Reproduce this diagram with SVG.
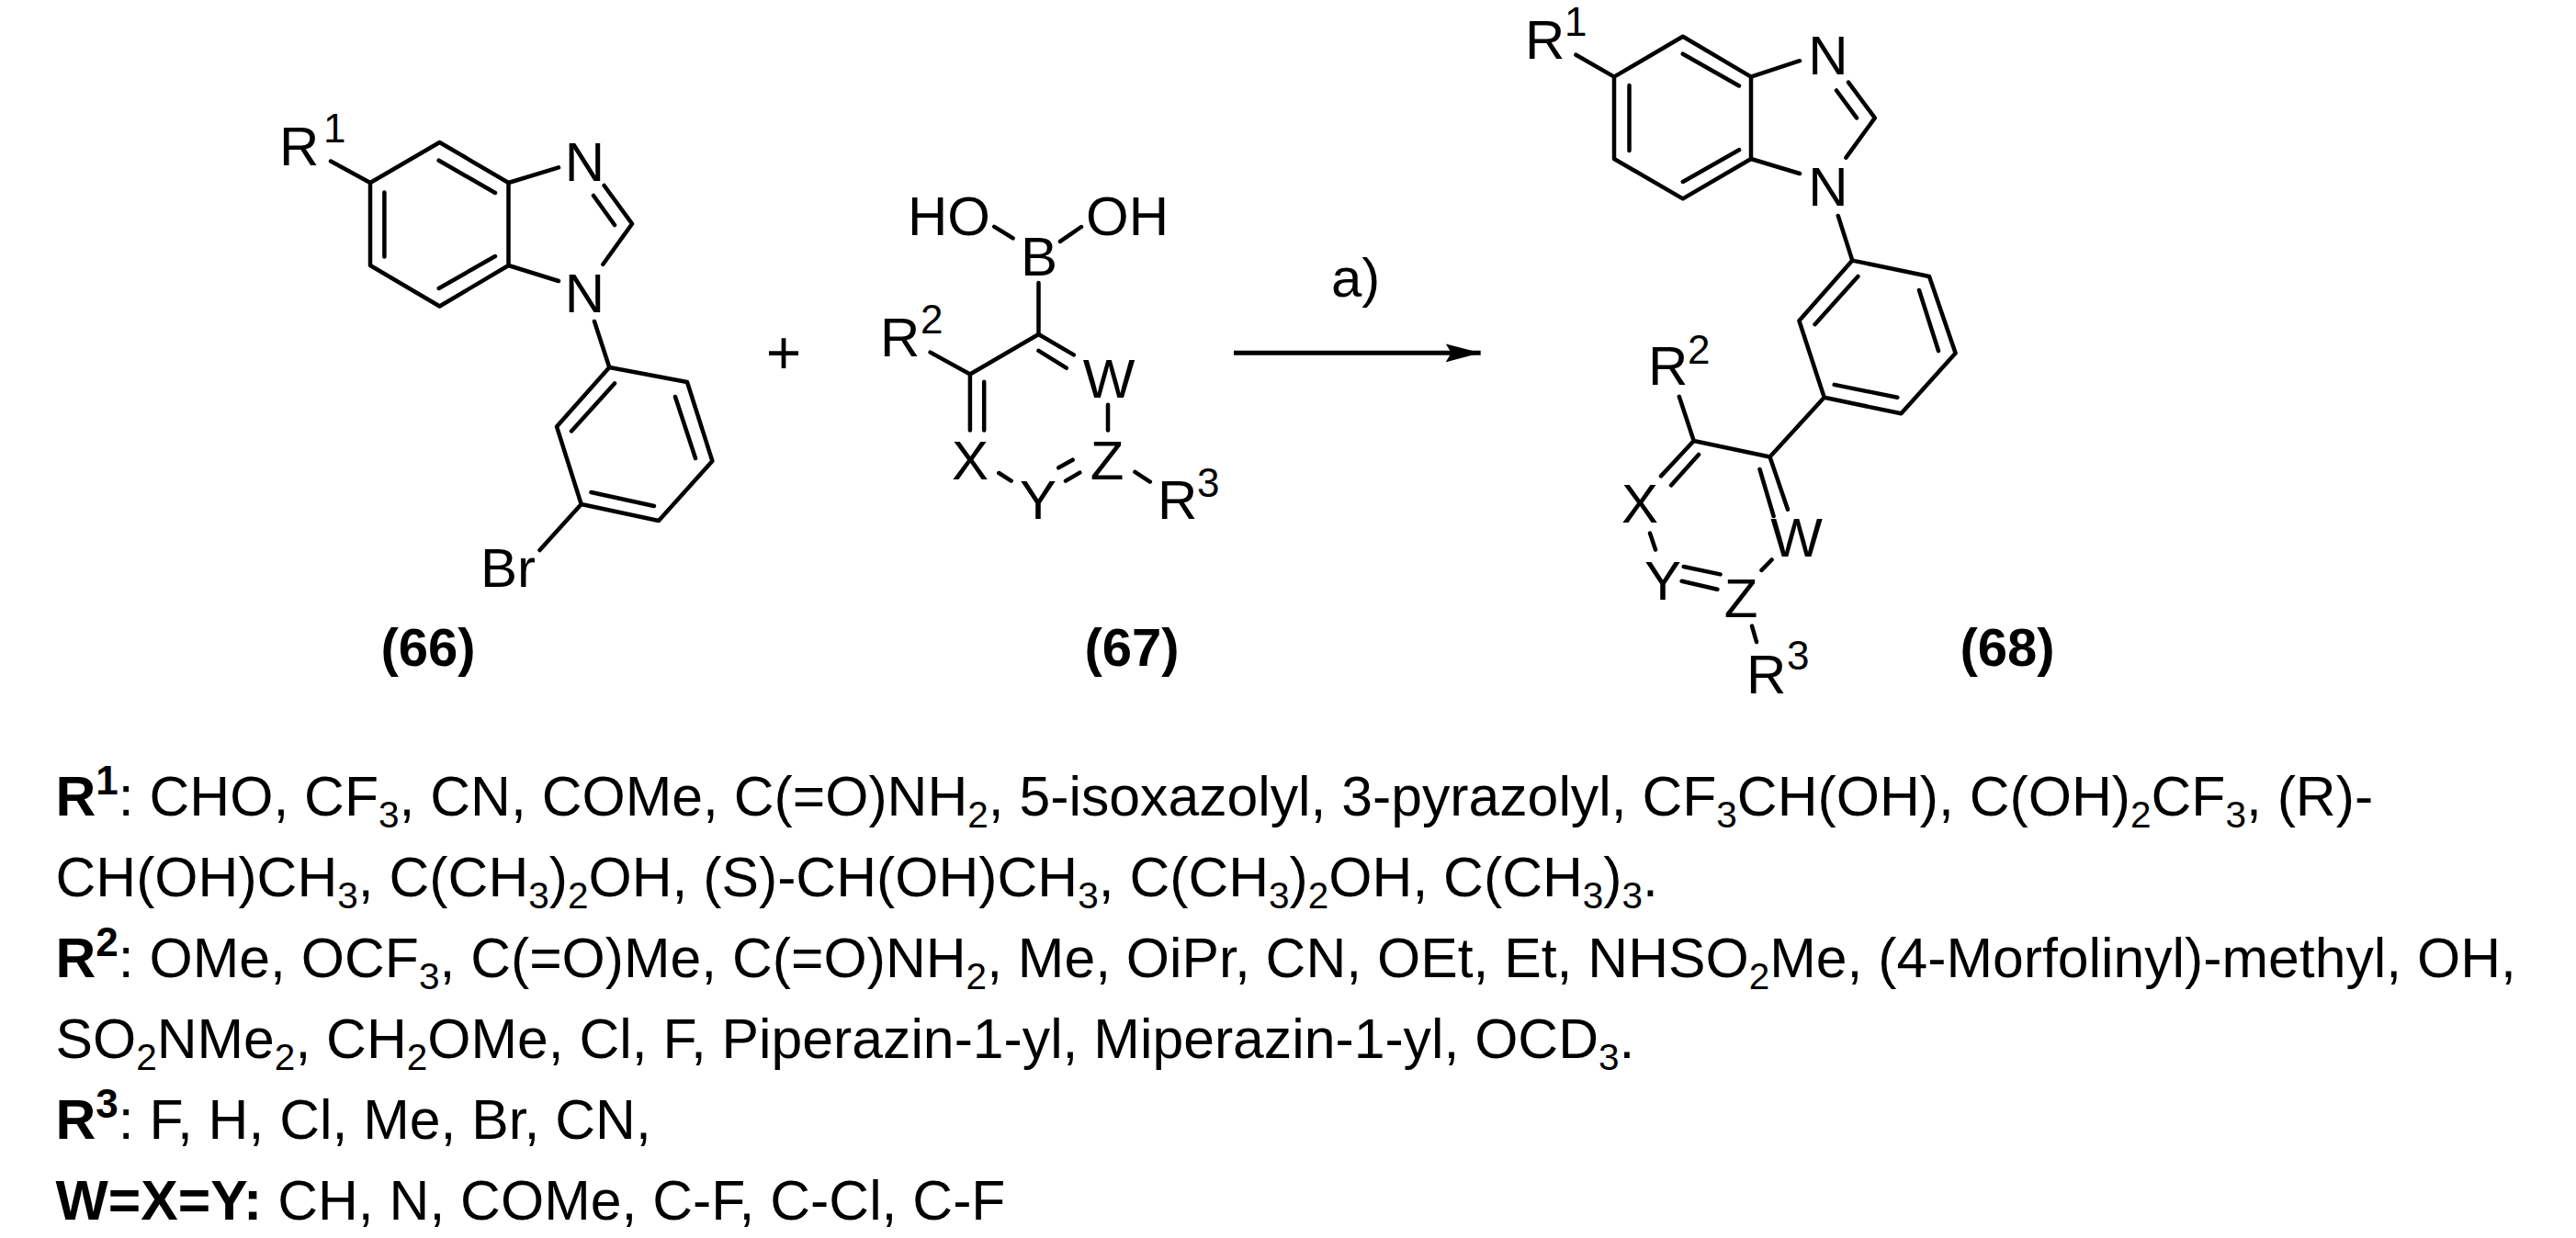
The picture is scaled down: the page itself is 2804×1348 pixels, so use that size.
<svg xmlns="http://www.w3.org/2000/svg" width="2804" height="1348" viewBox="0 0 2804 1348">
<style>
text{font-family:"Liberation Sans",Arial,sans-serif;fill:#000}
.a{font-size:60px}
.s{font-size:44px}
.m{text-anchor:middle}
.b{font-weight:bold}
.n{font-size:58px;font-weight:bold;text-anchor:middle}
.t{font-size:60.7px}
.u{font-size:40.5px}
.p{font-size:44px;font-weight:bold}
line,path{stroke:#000;stroke-width:4.500;stroke-linecap:round;stroke-linejoin:round;fill:none}
#connectors line{stroke-width:5;stroke-linecap:butt}
</style>
<defs><marker id="h" markerUnits="userSpaceOnUse" markerWidth="38" markerHeight="22" refX="38" refY="11" orient="auto"><polygon points="0,1 38,11 0,21 6,11" fill="#000"/></marker></defs>
<rect width="2804" height="1348" fill="#fff"/>
<g id="connectors">
<line x1="1343" y1="384.300" x2="1611.700" y2="384.300" marker-end="url(#h)"/>
</g>
<g id="compound-66">
<path d="M360 175.500L403 199L478.500 155L553.500 199V289L478.500 333.500L403 289V199"/>
<path d="M477.700 174.700L539 210M418.400 209.400V279.600M477.700 314L539 279"/>
<path d="M553.500 199L608 182.400M553.500 289L608 306M657.600 202L688 243.700L656.400 287.800M646 213L669 245M647 350L663.300 400"/>
<path d="M663.300 400L748 416L775.400 502L717 567L632.700 549L606 464.500Z"/>
<path d="M669 417.500L622 469.400M735 432L757 499M712 551L643.400 536M632.700 549L587.500 599"/>
<text class="a" x="304" y="180.400">R</text><text class="s" x="352" y="155">1</text>
<text class="a m" x="636.500" y="197">N</text><text class="a m" x="636.500" y="340">N</text>
<text class="a" x="523" y="639">Br</text>
<text class="n" x="466" y="725">(66)</text>
</g>
<text id="plus" class="m" font-size="66" x="853" y="407">+</text>
<g id="compound-67">
<path d="M1082.300 246.800L1102.600 259.300M1154 262.900L1177 247M1130.500 307.900V364L1055.900 407.500L1012.600 383.600M1130.500 364L1168.800 386.400M1130.500 381.800L1160.700 400.700M1055.900 407.500V468.600M1071.200 415.700V468.600M1206 440.700V468.600M1087.300 515L1100.700 523.600M1152.300 509.300L1167.600 500.700M1160 523.600L1175.300 514.600M1235.400 513.900L1251.800 524.600"/>
<text class="a" x="988" y="255.700">HO</text><text class="a" x="1182" y="255.700">OH</text>
<text class="a" x="1111" y="299.600">B</text>
<text class="a" x="958" y="388">R</text><text class="s" x="1002" y="362.900">2</text>
<text class="a m" x="1056" y="521.800">X</text><text class="a m" x="1207" y="432.900">W</text>
<text class="a m" x="1205" y="521.800">Z</text><text class="a m" x="1130" y="565">Y</text>
<text class="a" x="1260" y="565">R</text><text class="s" x="1303" y="540.700">3</text>
<text class="n" x="1232" y="725">(67)</text>
</g>
<text id="label-a" class="a" x="1449" y="323">a)</text>
<g id="compound-68">
<path d="M1715.500 59.700L1757 83.600L1831.800 39.800L1906 83.600V173L1831.800 216.400L1757 173V83.600"/>
<path d="M1831.800 58.700L1893 93.500M1773.500 93V164M1831.800 198L1893 163.200"/>
<path d="M1906 83.600L1959 66.200M1906 173L1959 189M2012 89.600L2040.800 128.400L2009.400 171.600M1999 98.500L2021 128.400M2000.800 235L2016.300 283.600"/>
<path d="M2016.300 283.600L2100 301L2128.600 384.600L2069.400 450.200L1985.700 432.800L1958.400 349.300Z"/>
<path d="M2022.400 301L1975.500 353.200M2089 316L2110 382M2065.300 432.800L1996.700 418.900"/>
<path d="M1985.700 432.800L1926.500 497.500L1843.700 480L1827.800 431.800M1843.700 480L1808 518.400M1849 495L1819 528.400M1926.500 497.500L1946 554.700M1915.500 511L1930.600 562M1796 580.600L1802 598.500M1832.700 617L1872.600 625.400M1830.600 632.800L1869.400 641.800M1928.600 609.500L1917.500 620.900M1907 681.600L1912 699"/>
<text class="a" x="1660" y="63.700">R</text><text class="s" x="1703" y="38.800">1</text>
<text class="a m" x="1990" y="81">N</text><text class="a m" x="1990" y="223.900">N</text>
<text class="a" x="1794" y="419.400">R</text><text class="s" x="1837" y="395.500">2</text>
<text class="a m" x="1785" y="568.700">X</text><text class="a m" x="1955.500" y="606">W</text>
<text class="a m" x="1810" y="652.700">Y</text><text class="a m" x="1895" y="671.600">Z</text>
<text class="a" x="1901" y="754.700">R</text><text class="s" x="1945" y="728.900">3</text>
<text class="n" x="2185" y="725">(68)</text>
</g>
<g id="legend">
<text class="t" x="60.500" y="888"><tspan class="b">R</tspan><tspan class="p" dy="-23">1</tspan><tspan dy="23">: CHO, CF</tspan><tspan class="u" dy="13">3</tspan><tspan dy="-13">, CN, COMe, C(=O)NH</tspan><tspan class="u" dy="13">2</tspan><tspan dy="-13">, 5-isoxazolyl, 3-pyrazolyl, CF</tspan><tspan class="u" dy="13">3</tspan><tspan dy="-13">CH(OH), C(OH)</tspan><tspan class="u" dy="13">2</tspan><tspan dy="-13">CF</tspan><tspan class="u" dy="13">3</tspan><tspan dy="-13">, (R)-</tspan></text>
<text class="t" x="60.500" y="976">CH(OH)CH<tspan class="u" dy="13">3</tspan><tspan dy="-13">, C(CH</tspan><tspan class="u" dy="13">3</tspan><tspan dy="-13">)</tspan><tspan class="u" dy="13">2</tspan><tspan dy="-13">OH, (S)-CH(OH)CH</tspan><tspan class="u" dy="13">3</tspan><tspan dy="-13">, C(CH</tspan><tspan class="u" dy="13">3</tspan><tspan dy="-13">)</tspan><tspan class="u" dy="13">2</tspan><tspan dy="-13">OH, C(CH</tspan><tspan class="u" dy="13">3</tspan><tspan dy="-13">)</tspan><tspan class="u" dy="13">3</tspan><tspan dy="-13">.</tspan></text>
<text class="t" x="60.500" y="1064"><tspan class="b">R</tspan><tspan class="p" dy="-23">2</tspan><tspan dy="23">: OMe, OCF</tspan><tspan class="u" dy="13">3</tspan><tspan dy="-13">, C(=O)Me, C(=O)NH</tspan><tspan class="u" dy="13">2</tspan><tspan dy="-13">, Me, OiPr, CN, OEt, Et, NHSO</tspan><tspan class="u" dy="13">2</tspan><tspan dy="-13">Me, (4-Morfolinyl)-methyl, OH,</tspan></text>
<text class="t" x="60.500" y="1152">SO<tspan class="u" dy="13">2</tspan><tspan dy="-13">NMe</tspan><tspan class="u" dy="13">2</tspan><tspan dy="-13">, CH</tspan><tspan class="u" dy="13">2</tspan><tspan dy="-13">OMe, Cl, F, Piperazin-1-yl, Miperazin-1-yl, OCD</tspan><tspan class="u" dy="13">3</tspan><tspan dy="-13">.</tspan></text>
<text class="t" x="60.500" y="1240"><tspan class="b">R</tspan><tspan class="p" dy="-23">3</tspan><tspan dy="23">: F, H, Cl, Me, Br, CN,</tspan></text>
<text class="t" x="60.500" y="1328"><tspan class="b">W=X=Y:</tspan> CH, N, COMe, C-F, C-Cl, C-F</text>
</g>
</svg>
